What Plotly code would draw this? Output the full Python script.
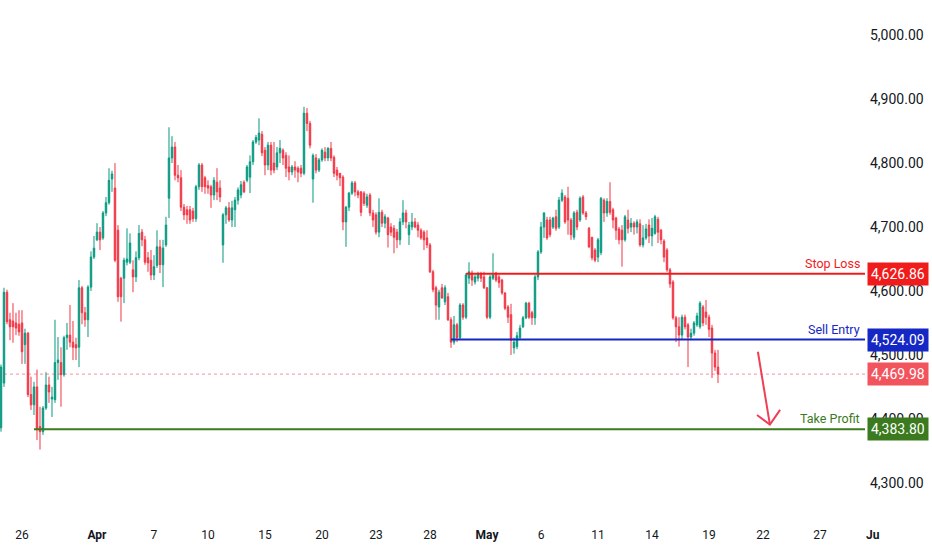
import plotly.graph_objects as go

# OHLC values, 4H bars
OPEN = [
    4386, 4456, 4598, 4555, 4553, 4550, 4548, 4550, 4516, 4534,
    4438, 4422, 4450, 4388, 4380, 4417, 4453, 4431, 4430, 4488,
    4488, 4469, 4527, 4531, 4520, 4516, 4512, 4605, 4566, 4555,
    4606, 4653, 4680, 4692, 4683, 4722, 4738, 4775, 4761, 4695,
    4620, 4620, 4645, 4645, 4633, 4622, 4652, 4692, 4680, 4652,
    4648, 4625, 4640, 4669, 4641, 4672, 4745, 4808, 4825, 4781,
    4777, 4731, 4727, 4727, 4725, 4713, 4763, 4797, 4777, 4765,
    4763, 4750, 4770, 4761, 4672, 4719, 4730, 4711, 4727, 4742,
    4750, 4770, 4773, 4778, 4802, 4833, 4836, 4845, 4820, 4797,
    4828, 4800, 4794, 4816, 4820, 4812, 4794, 4786, 4794, 4792,
    4792, 4784, 4878, 4862, 4775, 4808, 4789, 4805, 4817, 4808,
    4823, 4809, 4789, 4784, 4778, 4708, 4731, 4753, 4769, 4755,
    4755, 4753, 4734, 4750, 4722, 4719, 4692, 4723, 4706, 4714,
    4700, 4698, 4692, 4680, 4708, 4722, 4688, 4700, 4708, 4703,
    4695, 4692, 4683, 4672, 4630, 4605, 4575, 4605, 4583, 4591,
    4555, 4520, 4547, 4527, 4578, 4559, 4620, 4628, 4614, 4620,
    4627, 4622, 4605, 4559, 4620, 4628, 4622, 4617, 4597, 4575,
    4563, 4511, 4513, 4527, 4544, 4558, 4581, 4566, 4558, 4622,
    4661, 4700, 4711, 4711, 4700, 4716, 4700, 4742, 4747, 4745,
    4711, 4684, 4723, 4711, 4747, 4722, 4698, 4684, 4664, 4653,
    4660, 4742, 4722, 4740, 4727, 4714, 4697, 4695, 4680, 4711,
    4700, 4706, 4700, 4705, 4672, 4683, 4703, 4686, 4690, 4712,
    4695, 4678, 4664, 4633, 4614, 4558, 4544, 4531, 4559, 4547,
    4528, 4534, 4547, 4544, 4575, 4567, 4559, 4542, 4503, 4481,
]
HIGH = [
    4485, 4605, 4602, 4566, 4581, 4566, 4570, 4570, 4541, 4536,
    4466, 4458, 4477, 4419, 4420, 4473, 4466, 4450, 4555, 4528,
    4512, 4530, 4550, 4578, 4553, 4527, 4617, 4608, 4575, 4609,
    4662, 4686, 4706, 4700, 4725, 4747, 4792, 4788, 4800, 4703,
    4622, 4652, 4698, 4690, 4648, 4662, 4703, 4697, 4686, 4661,
    4664, 4656, 4695, 4680, 4680, 4716, 4856, 4842, 4833, 4797,
    4789, 4736, 4733, 4733, 4730, 4766, 4800, 4800, 4780, 4773,
    4766, 4778, 4792, 4773, 4722, 4733, 4739, 4741, 4747, 4762,
    4772, 4773, 4797, 4812, 4836, 4844, 4870, 4850, 4825, 4833,
    4833, 4833, 4825, 4836, 4823, 4817, 4812, 4797, 4803, 4795,
    4797, 4888, 4886, 4866, 4815, 4814, 4808, 4823, 4825, 4825,
    4833, 4812, 4794, 4784, 4781, 4733, 4755, 4772, 4772, 4758,
    4756, 4756, 4752, 4753, 4727, 4723, 4745, 4727, 4720, 4716,
    4706, 4703, 4697, 4714, 4742, 4727, 4708, 4722, 4714, 4708,
    4698, 4695, 4695, 4675, 4633, 4608, 4602, 4611, 4609, 4597,
    4559, 4561, 4550, 4581, 4581, 4628, 4645, 4632, 4625, 4630,
    4630, 4630, 4606, 4625, 4659, 4630, 4625, 4619, 4598, 4578,
    4580, 4527, 4536, 4547, 4561, 4583, 4583, 4569, 4625, 4664,
    4708, 4723, 4716, 4716, 4716, 4727, 4747, 4759, 4750, 4763,
    4714, 4725, 4727, 4748, 4750, 4725, 4700, 4684, 4667, 4683,
    4747, 4745, 4745, 4770, 4730, 4716, 4700, 4703, 4719, 4727,
    4714, 4709, 4712, 4712, 4703, 4705, 4712, 4714, 4719, 4716,
    4697, 4681, 4667, 4636, 4617, 4561, 4559, 4563, 4563, 4550,
    4541, 4553, 4566, 4584, 4578, 4586, 4563, 4547, 4508, 4508,
]
LOW = [
    4380, 4450, 4548, 4523, 4519, 4531, 4530, 4486, 4486, 4434,
    4414, 4406, 4367, 4352, 4375, 4414, 4425, 4403, 4425, 4461,
    4419, 4466, 4508, 4512, 4492, 4492, 4481, 4548, 4544, 4528,
    4600, 4650, 4678, 4664, 4680, 4717, 4735, 4755, 4645, 4583,
    4552, 4581, 4640, 4642, 4598, 4614, 4648, 4670, 4641, 4630,
    4617, 4617, 4636, 4628, 4606, 4669, 4714, 4800, 4773, 4770,
    4725, 4711, 4705, 4705, 4708, 4708, 4758, 4755, 4752, 4752,
    4730, 4742, 4742, 4739, 4644, 4705, 4708, 4700, 4700, 4735,
    4745, 4753, 4770, 4753, 4797, 4830, 4828, 4811, 4781, 4789,
    4781, 4784, 4789, 4800, 4797, 4778, 4773, 4781, 4777, 4770,
    4778, 4781, 4850, 4823, 4738, 4784, 4786, 4802, 4803, 4803,
    4803, 4778, 4773, 4764, 4695, 4669, 4725, 4750, 4748, 4745,
    4717, 4733, 4730, 4717, 4700, 4688, 4684, 4700, 4698, 4668,
    4686, 4659, 4667, 4672, 4703, 4698, 4672, 4695, 4698, 4684,
    4680, 4664, 4667, 4628, 4598, 4555, 4555, 4588, 4578, 4553,
    4511, 4516, 4520, 4524, 4555, 4556, 4611, 4608, 4610, 4615,
    4614, 4603, 4556, 4556, 4617, 4614, 4605, 4594, 4570, 4550,
    4500, 4502, 4509, 4525, 4542, 4556, 4556, 4547, 4547, 4617,
    4658, 4683, 4680, 4684, 4697, 4694, 4697, 4739, 4705, 4688,
    4680, 4680, 4695, 4708, 4719, 4711, 4667, 4648, 4645, 4645,
    4656, 4708, 4716, 4719, 4698, 4680, 4673, 4638, 4677, 4690,
    4692, 4688, 4690, 4669, 4668, 4680, 4675, 4670, 4688, 4675,
    4673, 4645, 4630, 4605, 4555, 4520, 4513, 4525, 4540, 4481,
    4523, 4530, 4544, 4541, 4545, 4547, 4528, 4464, 4475, 4456,
]
CLOSE = [
    4481, 4598, 4552, 4544, 4544, 4542, 4536, 4505, 4534, 4438,
    4422, 4450, 4383, 4380, 4417, 4453, 4442, 4434, 4488, 4492,
    4469, 4527, 4531, 4520, 4512, 4511, 4605, 4566, 4555, 4606,
    4653, 4667, 4692, 4680, 4722, 4738, 4773, 4783, 4648, 4591,
    4591, 4648, 4650, 4675, 4622, 4652, 4690, 4680, 4645, 4644,
    4625, 4638, 4669, 4641, 4667, 4703, 4808, 4825, 4781, 4777,
    4731, 4719, 4719, 4711, 4713, 4763, 4797, 4763, 4763, 4761,
    4750, 4773, 4755, 4747, 4719, 4730, 4711, 4730, 4742, 4758,
    4766, 4755, 4794, 4802, 4833, 4840, 4847, 4816, 4797, 4828,
    4789, 4789, 4816, 4823, 4808, 4792, 4786, 4794, 4789, 4786,
    4784, 4878, 4862, 4828, 4812, 4789, 4805, 4820, 4808, 4823,
    4808, 4784, 4781, 4777, 4708, 4731, 4753, 4769, 4755, 4750,
    4723, 4737, 4747, 4722, 4711, 4692, 4723, 4706, 4716, 4688,
    4692, 4684, 4680, 4708, 4722, 4708, 4703, 4708, 4700, 4695,
    4683, 4680, 4672, 4630, 4602, 4578, 4598, 4589, 4605, 4555,
    4520, 4547, 4527, 4578, 4559, 4625, 4630, 4617, 4622, 4627,
    4620, 4605, 4559, 4622, 4625, 4617, 4613, 4597, 4573, 4559,
    4523, 4520, 4530, 4542, 4558, 4581, 4559, 4558, 4622, 4661,
    4700, 4722, 4683, 4688, 4714, 4698, 4742, 4753, 4708, 4711,
    4688, 4722, 4700, 4745, 4722, 4716, 4669, 4652, 4648, 4680,
    4745, 4722, 4740, 4723, 4711, 4695, 4680, 4680, 4716, 4698,
    4706, 4700, 4708, 4672, 4683, 4697, 4686, 4698, 4716, 4692,
    4680, 4653, 4633, 4611, 4558, 4544, 4531, 4559, 4544, 4528,
    4534, 4550, 4561, 4581, 4550, 4559, 4540, 4503, 4481, 4469.98,
]
BARS = list(range(len(CLOSE)))

# x axis labels (bar index where each label sits)
TICK_BARS = [7, 32, 51, 69, 88, 107, 125, 143, 162, 180, 199, 217, 236, 254, 273]
TICK_TEXT = ["26", "<b>Apr</b>", "7", "10", "15", "20", "23", "28", "<b>May</b>",
             "6", "11", "14", "19", "22", "27"]

# trade levels: (name, price, start bar, colour)
STOP_LOSS = ("Stop Loss", 4626.86, 155, "#f01c1c")
SELL_ENTRY = ("Sell Entry", 4524.09, 150, "#1527c4")
TAKE_PROFIT = ("Take Profit", 4383.80, 11, "#3b7a1e")
LAST_PRICE = CLOSE[-1]

X_MAX = 288
Y_RANGE = [4245, 5055]

GREEN = "#089981"
RED = "#f23645"
TEXT = "#131722"
FONT = "Roboto"

fig = go.Figure()

fig.add_trace(go.Candlestick(
    x=BARS, open=OPEN, high=HIGH, low=LOW, close=CLOSE,
    increasing=dict(line=dict(color=GREEN, width=1), fillcolor=GREEN),
    decreasing=dict(line=dict(color=RED, width=1), fillcolor=RED),
    whiskerwidth=0, hoverinfo="skip", showlegend=False,
))

shapes = []
annotations = []

# last price dotted line + box
shapes.append(dict(type="line", xref="x", yref="y", x0=-1, x1=X_MAX,
                   y0=LAST_PRICE, y1=LAST_PRICE,
                   line=dict(color="rgba(242,54,69,0.55)", width=1, dash="dot")))
annotations.append(dict(xref="paper", yref="y", x=1, y=LAST_PRICE, xanchor="left",
                        xshift=2, yanchor="middle", text=f"{LAST_PRICE:,.2f}",
                        showarrow=False, bgcolor="#f2545e", height=16,
                        borderpad=3, font=dict(color="white", size=14, family=FONT)))

for name, price, start, colour in [STOP_LOSS, SELL_ENTRY, TAKE_PROFIT]:
    shapes.append(dict(type="line", xref="x", yref="y", x0=start, x1=X_MAX,
                       y0=price, y1=price, line=dict(color=colour, width=2)))
    annotations.append(dict(xref="paper", yref="y", x=1, y=price, xanchor="right",
                            xshift=-3, yanchor="bottom", yshift=1, text=name,
                            showarrow=False,
                            font=dict(color=colour, size=12.5, family=FONT)))
    annotations.append(dict(xref="paper", yref="y", x=1, y=price, xanchor="left",
                            xshift=2, yanchor="middle", text=f"{price:,.2f}",
                            showarrow=False, bgcolor=colour, height=16,
                            borderpad=3, font=dict(color="white", size=14, family=FONT)))

# drawn down arrow
ARROW_START = (252.3, 4505)
ARROW_TIP = (256.3, 4391)
ARROW_LEFT = (252.0, 4406)
ARROW_RIGHT = (259.7, 4414)
ARROW_COLOUR = "#ef3f56"
shapes.append(dict(type="line", xref="x", yref="y",
                   x0=ARROW_START[0], y0=ARROW_START[1], x1=ARROW_TIP[0], y1=ARROW_TIP[1],
                   line=dict(color=ARROW_COLOUR, width=2)))
shapes.append(dict(type="path", xref="x", yref="y",
                   path=f"M {ARROW_LEFT[0]},{ARROW_LEFT[1]} L {ARROW_TIP[0]},{ARROW_TIP[1]} "
                        f"L {ARROW_RIGHT[0]},{ARROW_RIGHT[1]}",
                   line=dict(color=ARROW_COLOUR, width=2)))

# month label cut by the price scale
annotations.append(dict(xref="paper", yref="paper", x=873 / 865, y=0, yshift=-17,
                        xanchor="center", yanchor="middle", text="<b>Ju</b>",
                        showarrow=False, font=dict(color=TEXT, size=12, family=FONT)))

fig.update_layout(
    width=932, height=550,
    margin=dict(l=0, r=67, t=0, b=32),
    paper_bgcolor="white", plot_bgcolor="white",
    font=dict(family=FONT, color=TEXT, size=12),
    shapes=shapes, annotations=annotations,
    showlegend=False,
    xaxis=dict(range=[-0.33, X_MAX], tickvals=TICK_BARS, ticktext=TICK_TEXT,
               showgrid=False, zeroline=False, showline=False, ticks="",
               rangeslider=dict(visible=False), fixedrange=True,
               ticklabelstandoff=8, tickfont=dict(size=12, color=TEXT)),
    yaxis=dict(range=Y_RANGE, side="right", dtick=100, tick0=4300,
               tickformat=",.2f", showgrid=False, zeroline=False, showline=False,
               ticks="", ticklabelstandoff=4, tickfont=dict(size=14, color=TEXT),
               fixedrange=True),
)

# the page body has a default 8px margin; drop it so the chart fills the window
fig.write_html("out.html", config={"displayModeBar": False},
               post_script="document.body.style.margin = '0';")
